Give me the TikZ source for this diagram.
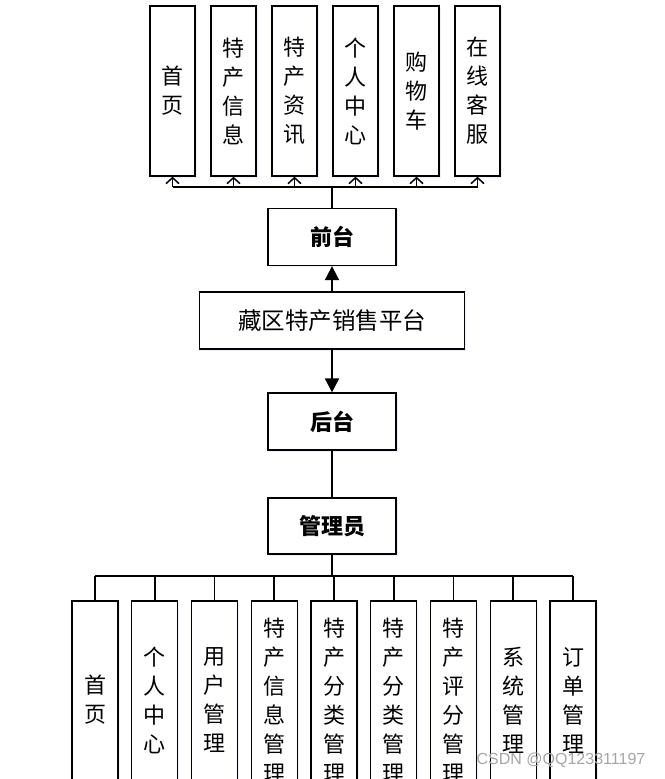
\documentclass[tikz,border=0pt]{standalone}
\usepackage{fontspec}
\setmainfont{Noto Sans CJK SC}
\newfontfamily\marksans{Liberation Sans}
\usetikzlibrary{arrows.meta,shadows}

\tikzset{
    box/.style={draw, line width=1.3pt, fill=white, inner sep=0pt,
        minimum width=45pt, minimum height=170pt, align=center,
        font=\fontsize{22}{29}\selectfont,
        drop shadow={shadow xshift=1.5pt, shadow yshift=-1.5pt, opacity=0.25, fill=blue!25}},
    tallbox/.style={box, minimum width=46pt, minimum height=198pt},
    midbox/.style={box, minimum width=128pt, minimum height=57pt, font=\fontsize{22}{29}\selectfont\bfseries},
    bus/.style={line width=1.8pt},
    up/.style={line width=1.5pt, -{Straight Barb[length=6pt,width=13pt]}},
    big/.style={line width=2pt, -{Triangle[length=14pt,width=14pt]}}
}

\begin{document}
\begin{tikzpicture}[x=1pt,y=-1pt]
    \useasboundingbox (0,0) rectangle (664,779);
    \clip (0,0) rectangle (664,779);

    % front end pages
    \node[box] (shouye) at (172.5,91) {首\\页};
    \node[box] (xinxi) at (233.5,91) {特\\产\\信\\息};
    \node[box] (zixun) at (294.5,91) {特\\产\\资\\讯};
    \node[box] (geren) at (355.5,91) {个\\人\\中\\心};
    \node[box] (gouwu) at (416.5,91) {购\\物\\车};
    \node[box] (kefu) at (477.5,91) {在\\线\\客\\服};

    \node[midbox] (qiantai) at (332,237) {前台};
    \node[box, minimum width=265pt, minimum height=57pt, font=\fontsize{23.5}{29}\selectfont] (pingtai) at (332,320.5) {藏区特产销售平台};
    \node[midbox] (houtai) at (332,421.5) {后台};
    \node[midbox, minimum height=56pt] (guanli) at (332,526) {管理员};

    % back end pages
    \node[tallbox] (gshouye) at (95,700) {首\\页};
    \node[tallbox] (ggeren) at (154.75,700) {个\\人\\中\\心};
    \node[tallbox] (yonghu) at (214.5,700) {用\\户\\管\\理};
    \node[tallbox] (gxinxi) at (274.25,700) {特\\产\\信\\息\\管\\理};
    \node[tallbox] (fenlei) at (334,700) {特\\产\\分\\类\\管\\理};
    \node[tallbox] (fenleib) at (393.75,700) {特\\产\\分\\类\\管\\理};
    \node[tallbox] (pingfen) at (453.5,700) {特\\产\\评\\分\\管\\理};
    \node[tallbox] (xitong) at (513.25,700) {系\\统\\管\\理};
    \node[tallbox] (dingdan) at (573,700) {订\\单\\管\\理};

    % top bus
    \coordinate (topbus) at (332,187);
    \draw[bus] (qiantai.north) -- (topbus);
    \draw[bus] (shouye |- topbus) -- (kefu |- topbus);
    \draw[up] (shouye |- topbus) -- (shouye.south);
    \draw[up] (xinxi |- topbus) -- (xinxi.south);
    \draw[up] (zixun |- topbus) -- (zixun.south);
    \draw[up] (geren |- topbus) -- (geren.south);
    \draw[up] (gouwu |- topbus) -- (gouwu.south);
    \draw[up] (kefu |- topbus) -- (kefu.south);

    \draw[big] (pingtai.north) -- (qiantai.south);
    \draw[big] (pingtai.south) -- (houtai.north);
    \draw[line width=1.3pt] (houtai.south) -- (guanli.north);

    % bottom bus
    \coordinate (botbus) at (332,576);
    \draw[bus] (guanli.south) -- (botbus);
    \draw[bus] (gshouye |- botbus) -- (dingdan |- botbus);
    \draw[bus] (gshouye |- botbus) -- (gshouye.north);
    \draw[bus] (ggeren |- botbus) -- (ggeren.north);
    \draw[bus] (yonghu |- botbus) -- (yonghu.north);
    \draw[bus] (gxinxi |- botbus) -- (gxinxi.north);
    \draw[bus] (fenlei |- botbus) -- (fenlei.north);
    \draw[bus] (fenleib |- botbus) -- (fenleib.north);
    \draw[bus] (pingfen |- botbus) -- (pingfen.north);
    \draw[bus] (xitong |- botbus) -- (xitong.north);
    \draw[bus] (dingdan |- botbus) -- (dingdan.north);

    \node[text=gray!70, font=\marksans\fontsize{16}{18}\selectfont] (mark) at (561,760) {CSDN @QQ123311197};
\end{tikzpicture}
\end{document}
